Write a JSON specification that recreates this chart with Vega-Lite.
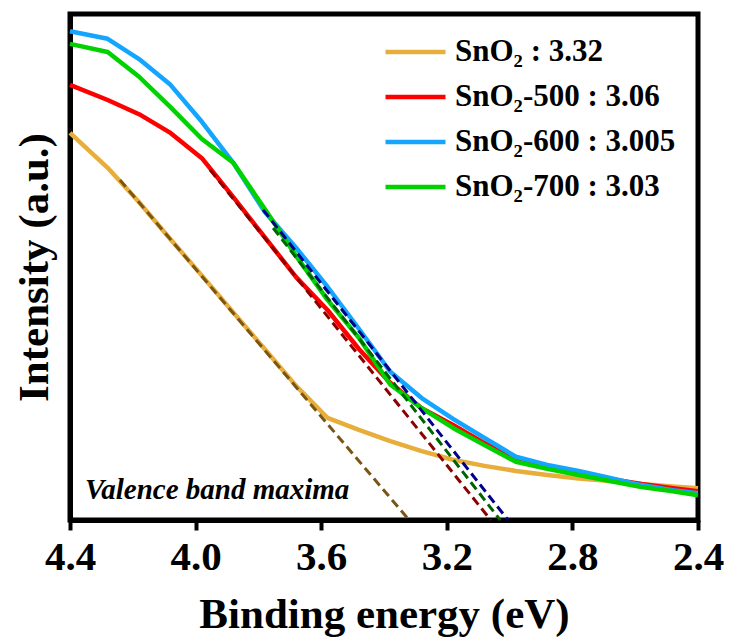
{
  "$schema": "https://vega.github.io/schema/vega-lite/v6.json",
  "width": 628,
  "height": 506,
  "autosize": {"type": "none"},
  "padding": {"left": 70, "top": 14, "right": 31, "bottom": 123},
  "background": "white",
  "config": {
    "view": {"stroke": "black", "strokeWidth": 5},
    "font": "Liberation Serif"
  },
  "datasets": {
    "curves": [
      {"s": "SnO₂ : 3.32", "x": 4.4, "y": 76.5}, {"s": "SnO₂ : 3.32", "x": 4.28, "y": 69.6}, {"s": "SnO₂ : 3.32", "x": 4.18, "y": 62.8}, {"s": "SnO₂ : 3.32", "x": 4.08, "y": 55.5}, {"s": "SnO₂ : 3.32", "x": 3.98, "y": 48.3}, {"s": "SnO₂ : 3.32", "x": 3.88, "y": 41.0}, {"s": "SnO₂ : 3.32", "x": 3.78, "y": 33.8}, {"s": "SnO₂ : 3.32", "x": 3.68, "y": 26.5}, {"s": "SnO₂ : 3.32", "x": 3.58, "y": 20.2}, {"s": "SnO₂ : 3.32", "x": 3.48, "y": 17.8}, {"s": "SnO₂ : 3.32", "x": 3.38, "y": 15.6}, {"s": "SnO₂ : 3.32", "x": 3.28, "y": 13.6}, {"s": "SnO₂ : 3.32", "x": 3.18, "y": 11.9}, {"s": "SnO₂ : 3.32", "x": 3.08, "y": 10.7}, {"s": "SnO₂ : 3.32", "x": 2.98, "y": 9.7}, {"s": "SnO₂ : 3.32", "x": 2.88, "y": 8.9}, {"s": "SnO₂ : 3.32", "x": 2.78, "y": 8.2}, {"s": "SnO₂ : 3.32", "x": 2.68, "y": 7.7}, {"s": "SnO₂ : 3.32", "x": 2.58, "y": 7.1}, {"s": "SnO₂ : 3.32", "x": 2.48, "y": 6.6}, {"s": "SnO₂ : 3.32", "x": 2.4, "y": 6.3},
      {"s": "SnO₂-500 : 3.06", "x": 4.4, "y": 86.0}, {"s": "SnO₂-500 : 3.06", "x": 4.28, "y": 83.0}, {"s": "SnO₂-500 : 3.06", "x": 4.18, "y": 80.2}, {"s": "SnO₂-500 : 3.06", "x": 4.08, "y": 76.5}, {"s": "SnO₂-500 : 3.06", "x": 3.98, "y": 71.5}, {"s": "SnO₂-500 : 3.06", "x": 3.88, "y": 63.8}, {"s": "SnO₂-500 : 3.06", "x": 3.78, "y": 55.9}, {"s": "SnO₂-500 : 3.06", "x": 3.68, "y": 48.0}, {"s": "SnO₂-500 : 3.06", "x": 3.58, "y": 41.5}, {"s": "SnO₂-500 : 3.06", "x": 3.48, "y": 33.8}, {"s": "SnO₂-500 : 3.06", "x": 3.38, "y": 27.1}, {"s": "SnO₂-500 : 3.06", "x": 3.28, "y": 22.1}, {"s": "SnO₂-500 : 3.06", "x": 3.18, "y": 18.8}, {"s": "SnO₂-500 : 3.06", "x": 3.08, "y": 15.2}, {"s": "SnO₂-500 : 3.06", "x": 2.98, "y": 12.3}, {"s": "SnO₂-500 : 3.06", "x": 2.88, "y": 10.5}, {"s": "SnO₂-500 : 3.06", "x": 2.78, "y": 9.3}, {"s": "SnO₂-500 : 3.06", "x": 2.68, "y": 8.1}, {"s": "SnO₂-500 : 3.06", "x": 2.58, "y": 7.1}, {"s": "SnO₂-500 : 3.06", "x": 2.48, "y": 6.3}, {"s": "SnO₂-500 : 3.06", "x": 2.4, "y": 5.7},
      {"s": "SnO₂-600 : 3.005", "x": 4.4, "y": 96.6}, {"s": "SnO₂-600 : 3.005", "x": 4.28, "y": 95.1}, {"s": "SnO₂-600 : 3.005", "x": 4.18, "y": 91.1}, {"s": "SnO₂-600 : 3.005", "x": 4.08, "y": 86.0}, {"s": "SnO₂-600 : 3.005", "x": 3.98, "y": 78.7}, {"s": "SnO₂-600 : 3.005", "x": 3.88, "y": 70.6}, {"s": "SnO₂-600 : 3.005", "x": 3.78, "y": 60.9}, {"s": "SnO₂-600 : 3.005", "x": 3.68, "y": 53.8}, {"s": "SnO₂-600 : 3.005", "x": 3.58, "y": 46.1}, {"s": "SnO₂-600 : 3.005", "x": 3.48, "y": 37.8}, {"s": "SnO₂-600 : 3.005", "x": 3.38, "y": 29.3}, {"s": "SnO₂-600 : 3.005", "x": 3.28, "y": 24.1}, {"s": "SnO₂-600 : 3.005", "x": 3.18, "y": 20.0}, {"s": "SnO₂-600 : 3.005", "x": 3.08, "y": 16.2}, {"s": "SnO₂-600 : 3.005", "x": 2.98, "y": 12.5}, {"s": "SnO₂-600 : 3.005", "x": 2.88, "y": 10.9}, {"s": "SnO₂-600 : 3.005", "x": 2.78, "y": 9.7}, {"s": "SnO₂-600 : 3.005", "x": 2.68, "y": 8.3}, {"s": "SnO₂-600 : 3.005", "x": 2.58, "y": 6.9}, {"s": "SnO₂-600 : 3.005", "x": 2.48, "y": 5.9}, {"s": "SnO₂-600 : 3.005", "x": 2.4, "y": 5.3},
      {"s": "SnO₂-700 : 3.03", "x": 4.4, "y": 94.1}, {"s": "SnO₂-700 : 3.03", "x": 4.28, "y": 92.5}, {"s": "SnO₂-700 : 3.03", "x": 4.18, "y": 87.6}, {"s": "SnO₂-700 : 3.03", "x": 4.08, "y": 81.6}, {"s": "SnO₂-700 : 3.03", "x": 3.98, "y": 75.3}, {"s": "SnO₂-700 : 3.03", "x": 3.88, "y": 70.6}, {"s": "SnO₂-700 : 3.03", "x": 3.78, "y": 61.5}, {"s": "SnO₂-700 : 3.03", "x": 3.68, "y": 52.2}, {"s": "SnO₂-700 : 3.03", "x": 3.58, "y": 43.5}, {"s": "SnO₂-700 : 3.03", "x": 3.48, "y": 36.0}, {"s": "SnO₂-700 : 3.03", "x": 3.38, "y": 26.8}, {"s": "SnO₂-700 : 3.03", "x": 3.28, "y": 22.1}, {"s": "SnO₂-700 : 3.03", "x": 3.18, "y": 18.2}, {"s": "SnO₂-700 : 3.03", "x": 3.08, "y": 14.8}, {"s": "SnO₂-700 : 3.03", "x": 2.98, "y": 11.5}, {"s": "SnO₂-700 : 3.03", "x": 2.88, "y": 10.1}, {"s": "SnO₂-700 : 3.03", "x": 2.78, "y": 8.9}, {"s": "SnO₂-700 : 3.03", "x": 2.68, "y": 7.7}, {"s": "SnO₂-700 : 3.03", "x": 2.58, "y": 6.5}, {"s": "SnO₂-700 : 3.03", "x": 2.48, "y": 5.7}, {"s": "SnO₂-700 : 3.03", "x": 2.4, "y": 4.9}
    ],
    "tangents": [
      {"t": "a", "c": "#7A5616", "x": 4.241, "y": 67.2}, {"t": "a", "c": "#7A5616", "x": 3.32, "y": 0},
      {"t": "b", "c": "#8B0000", "x": 3.954, "y": 69.2}, {"t": "b", "c": "#8B0000", "x": 3.06, "y": 0},
      {"t": "c", "c": "#006400", "x": 3.753, "y": 57.7}, {"t": "c", "c": "#006400", "x": 3.03, "y": 0},
      {"t": "d", "c": "#00008B", "x": 3.785, "y": 61.3}, {"t": "d", "c": "#00008B", "x": 3.005, "y": 0}
    ],
    "note": [
      {"label": "Valence band maxima", "x": 4.352, "y": 4.1}
    ]
  },
  "encoding": {
    "x": {
      "field": "x", "type": "quantitative",
      "scale": {"domain": [2.4, 4.4], "reverse": true, "nice": false, "zero": false},
      "axis": {
        "values": [4.4, 4.0, 3.6, 3.2, 2.8, 2.4], "format": ".1f",
        "title": "Binding energy (eV)",
        "titleFont": "Liberation Serif", "titleFontSize": 43, "titleFontWeight": "bold", "titleColor": "black", "titlePadding": 16,
        "labelFont": "Liberation Serif", "labelFontSize": 41, "labelFontWeight": "bold", "labelColor": "black", "labelPadding": 7, "labelFlush": false,
        "tickSize": 10, "tickWidth": 4, "tickColor": "black",
        "domainColor": "black", "domainWidth": 5, "grid": false
      }
    },
    "y": {
      "field": "y", "type": "quantitative",
      "scale": {"domain": [0, 100], "nice": false, "zero": false},
      "axis": {
        "title": "Intensity (a.u.)",
        "titleFont": "Liberation Serif", "titleFontSize": 43, "titleFontWeight": "bold", "titleColor": "black", "titlePadding": 14,
        "labels": false, "ticks": false, "grid": false,
        "domainColor": "black", "domainWidth": 5
      }
    }
  },
  "layer": [
    {
      "data": {"name": "curves"},
      "mark": {"type": "line", "strokeWidth": 4.5, "strokeJoin": "round"},
      "encoding": {
        "color": {
          "field": "s", "type": "nominal",
          "scale": {
            "domain": ["SnO₂ : 3.32", "SnO₂-500 : 3.06", "SnO₂-600 : 3.005", "SnO₂-700 : 3.03"],
            "range": ["#E8AE3C", "#FF0000", "#14A5FF", "#00D200"]
          },
          "legend": {
            "orient": "none", "legendX": 313, "legendY": 23, "title": null, "padding": 0,
            "symbolType": "stroke", "symbolSize": 3600, "symbolStrokeWidth": 4.5, "clipHeight": 30,
            "rowPadding": 14, "labelOffset": 7,
            "labelFont": "Liberation Serif", "labelFontSize": 31, "labelFontWeight": "bold", "labelColor": "black", "labelLimit": 500
          }
        }
      }
    },
    {
      "data": {"name": "tangents"},
      "mark": {"type": "line", "strokeWidth": 3, "strokeDash": [9, 5]},
      "encoding": {
        "stroke": {"field": "c", "type": "nominal", "scale": null},
        "detail": {"field": "t"}
      }
    },
    {
      "data": {"name": "note"},
      "mark": {"type": "text", "font": "Liberation Serif", "fontStyle": "italic", "fontWeight": "bold", "fontSize": 29, "align": "left", "baseline": "alphabetic", "color": "black"},
      "encoding": {"text": {"field": "label"}}
    }
  ]
}
